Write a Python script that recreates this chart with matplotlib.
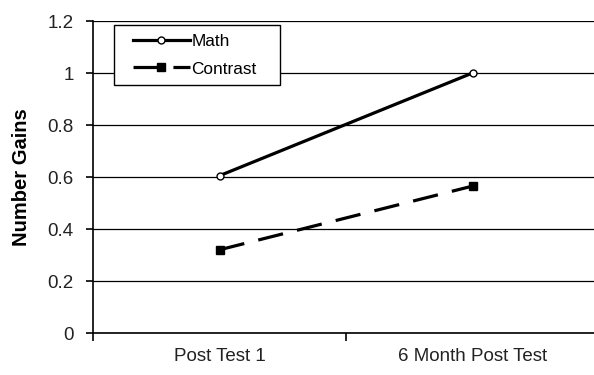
import numpy as np
import matplotlib
matplotlib.use("Agg")
import matplotlib.pyplot as plt
from matplotlib.patches import Rectangle

plt.rcParams["font.family"] = ["Liberation Sans", "DejaVu Sans"]

categories = ["Post Test 1", "6 Month Post Test"]
math_gains = [0.605, 1.0]
contrast_gains = [0.32, 0.565]
y_ticks = [0, 0.2, 0.4, 0.6, 0.8, 1.0, 1.2]
y_labels = ["0", "0.2", "0.4", "0.6", "0.8", "1", "1.2"]

fig = plt.figure(figsize=(5.94, 3.75), dpi=100)
ax = fig.add_axes([93 / 594, 42 / 375, 506 / 594, 312 / 375])

x = np.arange(len(categories))
ax.plot(x, math_gains, color="black", lw=2.3, marker="o", ms=5,
        mfc="white", mec="black", mew=1, label="Math", zorder=3)
ax.plot(x, contrast_gains, color="black", lw=2.3, ls=(0, (8, 4.5)),
        marker="s", ms=5.5, mfc="black", mec="black", label="Contrast", zorder=3)

ax.set_xlim(-0.5, 1.5)
ax.set_ylim(0, 1.2)
ax.set_yticks(y_ticks)
ax.set_yticklabels(y_labels, color="#222222")
ax.yaxis.grid(True, color="black", lw=0.9)
ax.set_axisbelow(True)

ax.set_xticks([-0.5, 0.5, 1.5])
ax.set_xticklabels([])
ax.set_xticks(x, minor=True)
ax.set_xticklabels(categories, minor=True, color="#222222")
ax.tick_params(axis="x", which="minor", length=0, pad=11, labelsize=13.5)
ax.tick_params(axis="x", which="major", length=6, width=1.2, direction="out")
ax.tick_params(axis="y", length=5, width=1.2, direction="out", labelsize=13.5, pad=9)

for s in ["top", "right"]:
    ax.spines[s].set_visible(False)
ax.spines["left"].set_linewidth(1.2)
ax.spines["bottom"].set_linewidth(1.2)

ax.set_ylabel("Number Gains", fontsize=14.5, fontweight="bold", labelpad=12)

# legend box drawn by hand so it can be wider than matplotlib's padding allows
box = Rectangle((21 / 506, 248 / 312), 166 / 506, 60 / 312, transform=ax.transAxes,
                facecolor="white", edgecolor="black", lw=1, zorder=4)
ax.add_patch(box)
leg = ax.legend(loc="upper left", bbox_to_anchor=(40 / 506, 299 / 312),
                frameon=False, fontsize=12.4, handlelength=3.3,
                borderpad=0, labelspacing=0.72, handletextpad=0.1,
                borderaxespad=0)
leg.set_zorder(5)

fig.savefig("out.png", dpi=100)
